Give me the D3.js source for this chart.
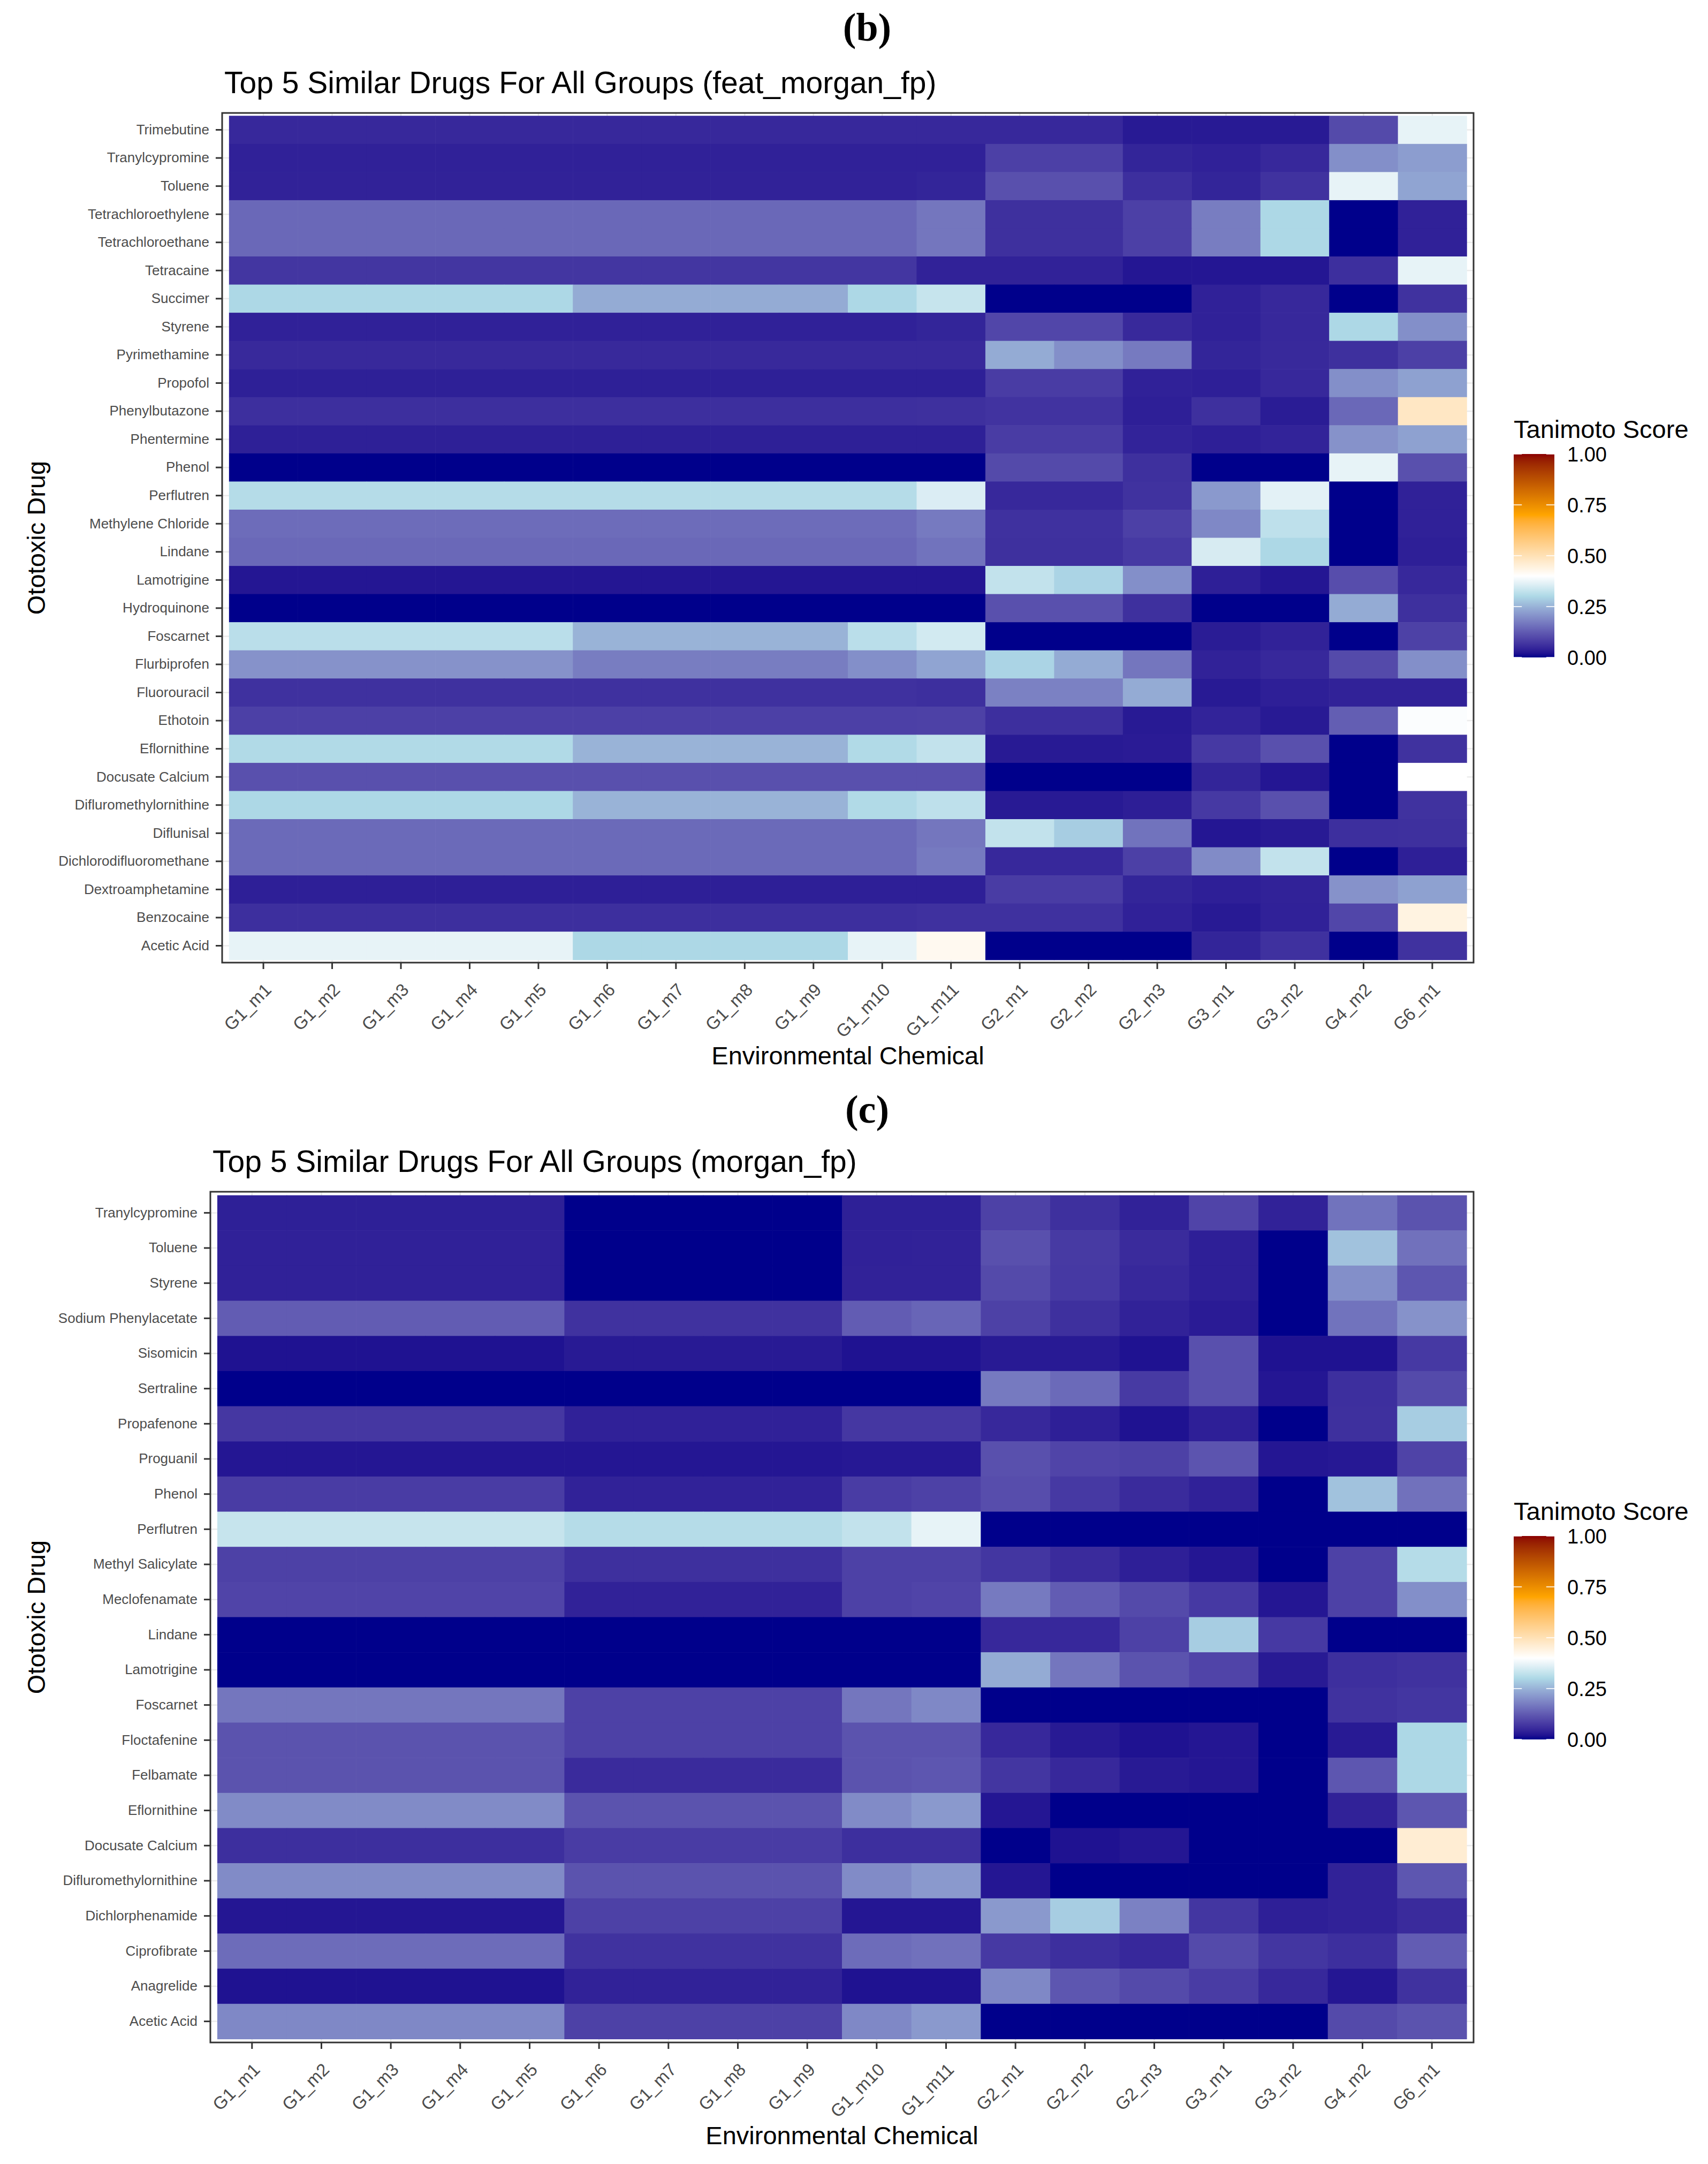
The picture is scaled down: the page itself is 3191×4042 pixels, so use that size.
<!DOCTYPE html>
<html>
<head>
<meta charset="utf-8">
<title>Top 5 Similar Drugs heatmaps</title>
<script src="https://cdn.jsdelivr.net/npm/d3@7"></script>
<style>
  * { margin: 0; padding: 0; }
  body { background: #fff; }
  text { font-family: "Liberation Sans", Arial, Helvetica, sans-serif; }
</style>
</head>
<body>
<div id="chart"></div>
<script>
// ---- data ----
var chemicals = ["G1_m1","G1_m2","G1_m3","G1_m4","G1_m5","G1_m6","G1_m7","G1_m8","G1_m9","G1_m10","G1_m11",
                 "G2_m1","G2_m2","G2_m3","G3_m1","G3_m2","G4_m2","G6_m1"];

// panel (b) feat_morgan_fp, rows listed top to bottom
var drugsB = ["Trimebutine","Tranylcypromine","Toluene","Tetrachloroethylene","Tetrachloroethane","Tetracaine",
  "Succimer","Styrene","Pyrimethamine","Propofol","Phenylbutazone","Phentermine","Phenol","Perflutren",
  "Methylene Chloride","Lindane","Lamotrigine","Hydroquinone","Foscarnet","Flurbiprofen","Fluorouracil",
  "Ethotoin","Eflornithine","Docusate Calcium","Difluromethylornithine","Diflunisal",
  "Dichlorodifluoromethane","Dextroamphetamine","Benzocaine","Acetic Acid"];

var scoresB = [
  [0.05,0.05,0.05,0.05,0.05,0.05,0.05,0.05,0.05,0.05,0.05, 0.05,0.05,0.03,0.03,0.03,0.10,0.37],
  [0.04,0.04,0.04,0.04,0.04,0.04,0.04,0.04,0.04,0.04,0.04, 0.085,0.085,0.045,0.04,0.05,0.20,0.22],
  [0.042,0.042,0.042,0.042,0.042,0.042,0.042,0.042,0.042,0.042,0.045, 0.11,0.11,0.06,0.045,0.065,0.37,0.23],
  [0.145,0.145,0.145,0.145,0.145,0.145,0.145,0.145,0.145,0.145,0.165, 0.062,0.062,0.085,0.175,0.30,0.0,0.04],
  [0.145,0.145,0.145,0.145,0.145,0.145,0.145,0.145,0.145,0.145,0.165, 0.062,0.062,0.085,0.175,0.30,0.0,0.04],
  [0.07,0.07,0.07,0.07,0.07,0.07,0.07,0.07,0.07,0.07,0.042, 0.042,0.042,0.025,0.025,0.025,0.06,0.37],
  [0.30,0.30,0.30,0.30,0.30,0.24,0.24,0.24,0.24,0.30,0.33, 0.0,0.0,0.0,0.04,0.05,0.0,0.065],
  [0.04,0.04,0.04,0.04,0.04,0.04,0.04,0.04,0.04,0.04,0.045, 0.095,0.095,0.052,0.04,0.05,0.30,0.20],
  [0.052,0.052,0.052,0.052,0.052,0.052,0.052,0.052,0.052,0.052,0.052, 0.24,0.20,0.17,0.045,0.052,0.062,0.085],
  [0.038,0.038,0.038,0.038,0.038,0.038,0.038,0.038,0.038,0.038,0.038, 0.08,0.08,0.04,0.037,0.05,0.20,0.225],
  [0.06,0.06,0.06,0.06,0.06,0.06,0.06,0.06,0.06,0.06,0.062, 0.066,0.066,0.037,0.062,0.033,0.145,0.48],
  [0.038,0.038,0.038,0.038,0.038,0.038,0.038,0.038,0.038,0.038,0.038, 0.08,0.08,0.043,0.037,0.043,0.205,0.225],
  [0.0,0.0,0.0,0.0,0.0,0.0,0.0,0.0,0.0,0.0,0.0, 0.10,0.10,0.062,0.0,0.0,0.37,0.11],
  [0.31,0.31,0.31,0.31,0.31,0.31,0.31,0.31,0.31,0.31,0.355, 0.05,0.05,0.065,0.215,0.365,0.0,0.04],
  [0.15,0.15,0.15,0.15,0.15,0.15,0.15,0.15,0.15,0.15,0.17, 0.063,0.063,0.085,0.19,0.32,0.0,0.04],
  [0.145,0.145,0.145,0.145,0.145,0.145,0.145,0.145,0.145,0.145,0.16, 0.062,0.062,0.075,0.35,0.30,0.0,0.037],
  [0.025,0.025,0.025,0.025,0.025,0.025,0.025,0.025,0.025,0.025,0.025, 0.325,0.295,0.20,0.037,0.025,0.105,0.05],
  [0.0,0.0,0.0,0.0,0.0,0.0,0.0,0.0,0.0,0.0,0.0, 0.11,0.11,0.062,0.0,0.0,0.24,0.062],
  [0.315,0.315,0.315,0.315,0.315,0.25,0.25,0.25,0.25,0.315,0.345, 0.0,0.0,0.0,0.033,0.042,0.0,0.087],
  [0.205,0.205,0.205,0.205,0.205,0.175,0.175,0.175,0.175,0.20,0.23, 0.295,0.24,0.165,0.042,0.05,0.10,0.20],
  [0.063,0.063,0.063,0.063,0.063,0.063,0.063,0.063,0.063,0.063,0.06, 0.18,0.18,0.24,0.03,0.037,0.042,0.042],
  [0.085,0.085,0.085,0.085,0.085,0.085,0.085,0.085,0.085,0.085,0.087, 0.06,0.06,0.03,0.043,0.03,0.13,0.395],
  [0.305,0.305,0.305,0.305,0.305,0.25,0.25,0.25,0.25,0.305,0.325, 0.03,0.03,0.032,0.075,0.11,0.0,0.065],
  [0.11,0.11,0.11,0.11,0.11,0.11,0.11,0.11,0.11,0.11,0.11, 0.0,0.0,0.0,0.045,0.025,0.0,0.40],
  [0.30,0.30,0.30,0.30,0.30,0.25,0.25,0.25,0.25,0.305,0.32, 0.03,0.03,0.036,0.075,0.11,0.0,0.065],
  [0.147,0.147,0.147,0.147,0.147,0.147,0.147,0.147,0.147,0.147,0.165, 0.325,0.285,0.16,0.025,0.03,0.06,0.062],
  [0.147,0.147,0.147,0.147,0.147,0.147,0.147,0.147,0.147,0.147,0.17, 0.05,0.05,0.085,0.195,0.325,0.0,0.037],
  [0.037,0.037,0.037,0.037,0.037,0.037,0.037,0.037,0.037,0.037,0.037, 0.08,0.08,0.045,0.037,0.042,0.205,0.225],
  [0.06,0.06,0.06,0.06,0.06,0.06,0.06,0.06,0.06,0.06,0.063, 0.063,0.063,0.04,0.03,0.04,0.095,0.44],
  [0.37,0.37,0.37,0.37,0.37,0.30,0.30,0.30,0.30,0.37,0.42, 0.0,0.0,0.0,0.045,0.063,0.0,0.065]
];

// panel (c) morgan_fp
var drugsC = ["Tranylcypromine","Toluene","Styrene","Sodium Phenylacetate","Sisomicin","Sertraline",
  "Propafenone","Proguanil","Phenol","Perflutren","Methyl Salicylate","Meclofenamate","Lindane",
  "Lamotrigine","Foscarnet","Floctafenine","Felbamate","Eflornithine","Docusate Calcium",
  "Difluromethylornithine","Dichlorphenamide","Ciprofibrate","Anagrelide","Acetic Acid"];

var scoresC = [
  [0.038,0.038,0.038,0.038,0.038,0.0,0.0,0.0,0.0,0.038,0.038, 0.087,0.062,0.042,0.092,0.042,0.16,0.113],
  [0.04,0.04,0.04,0.04,0.04,0.0,0.0,0.0,0.0,0.04,0.042, 0.11,0.077,0.055,0.037,0.0,0.27,0.158],
  [0.04,0.04,0.04,0.04,0.04,0.0,0.0,0.0,0.0,0.042,0.042, 0.10,0.075,0.05,0.037,0.0,0.20,0.118],
  [0.127,0.127,0.127,0.127,0.127,0.065,0.065,0.065,0.065,0.127,0.14, 0.087,0.062,0.042,0.032,0.0,0.16,0.205],
  [0.02,0.02,0.02,0.02,0.02,0.03,0.03,0.03,0.03,0.02,0.02, 0.03,0.03,0.02,0.11,0.02,0.02,0.075],
  [0.0,0.0,0.0,0.0,0.0,0.0,0.0,0.0,0.0,0.0,0.0, 0.17,0.147,0.077,0.11,0.025,0.06,0.10],
  [0.072,0.072,0.072,0.072,0.072,0.04,0.04,0.04,0.04,0.072,0.072, 0.05,0.037,0.02,0.037,0.0,0.062,0.285],
  [0.025,0.025,0.025,0.025,0.025,0.025,0.025,0.025,0.025,0.028,0.028, 0.11,0.092,0.087,0.115,0.025,0.028,0.09],
  [0.08,0.08,0.08,0.08,0.08,0.042,0.042,0.042,0.042,0.08,0.087, 0.105,0.075,0.055,0.04,0.0,0.27,0.158],
  [0.33,0.33,0.33,0.33,0.33,0.31,0.31,0.31,0.31,0.325,0.37, 0.0,0.0,0.0,0.0,0.0,0.0,0.0],
  [0.087,0.087,0.087,0.087,0.087,0.062,0.062,0.062,0.062,0.087,0.087, 0.07,0.055,0.037,0.025,0.0,0.087,0.31],
  [0.092,0.092,0.092,0.092,0.092,0.042,0.042,0.042,0.042,0.087,0.092, 0.17,0.127,0.10,0.075,0.025,0.087,0.20],
  [0.0,0.0,0.0,0.0,0.0,0.0,0.0,0.0,0.0,0.0,0.0, 0.05,0.05,0.087,0.285,0.075,0.0,0.0],
  [0.0,0.0,0.0,0.0,0.0,0.0,0.0,0.0,0.0,0.0,0.0, 0.24,0.165,0.113,0.092,0.03,0.06,0.065],
  [0.165,0.165,0.165,0.165,0.165,0.087,0.087,0.087,0.087,0.165,0.19, 0.0,0.0,0.0,0.0,0.0,0.065,0.07],
  [0.113,0.113,0.113,0.113,0.113,0.087,0.087,0.087,0.087,0.113,0.113, 0.05,0.03,0.02,0.025,0.0,0.03,0.30],
  [0.113,0.113,0.113,0.113,0.113,0.055,0.055,0.055,0.055,0.113,0.118, 0.07,0.05,0.03,0.025,0.0,0.118,0.30],
  [0.195,0.195,0.195,0.195,0.195,0.113,0.113,0.113,0.113,0.195,0.215, 0.025,0.0,0.0,0.0,0.0,0.042,0.118],
  [0.06,0.06,0.06,0.06,0.06,0.08,0.08,0.08,0.08,0.06,0.06, 0.0,0.02,0.025,0.0,0.0,0.0,0.46],
  [0.195,0.195,0.195,0.195,0.195,0.113,0.113,0.113,0.113,0.195,0.215, 0.025,0.0,0.0,0.0,0.0,0.042,0.118],
  [0.025,0.025,0.025,0.025,0.025,0.087,0.087,0.087,0.087,0.025,0.025, 0.215,0.285,0.18,0.07,0.037,0.042,0.055],
  [0.15,0.15,0.15,0.15,0.15,0.065,0.065,0.065,0.065,0.15,0.158, 0.075,0.06,0.05,0.10,0.07,0.06,0.127],
  [0.02,0.02,0.02,0.02,0.02,0.042,0.042,0.042,0.042,0.02,0.02, 0.19,0.118,0.10,0.08,0.05,0.025,0.065],
  [0.19,0.19,0.19,0.19,0.19,0.087,0.087,0.087,0.087,0.19,0.215, 0.0,0.0,0.0,0.0,0.0,0.10,0.113]
];

var legendTicks = [0, 0.25, 0.5, 0.75, 1];

// ---- drawing ----
var W = 3191, H = 4042;
var svg = d3.select("#chart").append("svg")
    .attr("width", W).attr("height", H)
    .attr("viewBox", "0 0 " + W + " " + H);
svg.append("rect").attr("width", W).attr("height", H).attr("fill", "#fff");

var color = d3.scaleLinear()
    .domain([0, 0.3, 0.4, 0.7, 1])
    .range(["darkblue", "lightblue", "white", "orange", "darkred"])
    .interpolate(d3.interpolateLab)
    .clamp(true);

var tickLen = 12;

function drawPanel(p) {
  var g = svg.append("g");

  // panel label like "(b)"
  g.append("text")
      .attr("x", 1620).attr("y", p.labelY)
      .attr("text-anchor", "middle")
      .style("font-family", "'Liberation Serif', 'DejaVu Serif', serif")
      .style("font-weight", "bold")
      .style("font-size", "74px")
      .text(p.label);

  g.append("text")
      .attr("x", p.left + 4).attr("y", p.top - 37)
      .style("font-size", "57px")
      .text(p.title);

  var x = d3.scaleBand().domain(chemicals).range([p.left, p.right]).paddingOuter(0.1).paddingInner(0);
  var y = d3.scaleBand().domain(p.drugs).range([p.top, p.bottom]).paddingOuter(0.1).paddingInner(0);

  // grid lines (only seen in the 0.1 margins)
  g.append("g").selectAll("line.gx").data(chemicals).enter().append("line")
      .attr("x1", function(d) { return x(d) + x.bandwidth() / 2; })
      .attr("x2", function(d) { return x(d) + x.bandwidth() / 2; })
      .attr("y1", p.top).attr("y2", p.bottom)
      .attr("stroke", "#ebebeb").attr("stroke-width", 2.5);
  g.append("g").selectAll("line.gy").data(p.drugs).enter().append("line")
      .attr("y1", function(d) { return y(d) + y.bandwidth() / 2; })
      .attr("y2", function(d) { return y(d) + y.bandwidth() / 2; })
      .attr("x1", p.left).attr("x2", p.right)
      .attr("stroke", "#ebebeb").attr("stroke-width", 2.5);

  var cells = [];
  p.drugs.forEach(function(drug, i) {
    chemicals.forEach(function(chem, j) {
      cells.push({ drug: drug, chem: chem, v: p.scores[i][j] });
    });
  });

  g.append("g").selectAll("rect").data(cells).enter().append("rect")
      .attr("x", function(d) { return x(d.chem); })
      .attr("y", function(d) { return y(d.drug); })
      .attr("width", x.bandwidth() + 0.6)
      .attr("height", y.bandwidth() + 0.6)
      .attr("fill", function(d) { return color(d.v); });

  // panel border
  g.append("rect")
      .attr("x", p.left).attr("y", p.top)
      .attr("width", p.right - p.left).attr("height", p.bottom - p.top)
      .attr("fill", "none").attr("stroke", "#333333").attr("stroke-width", 3);

  // y axis
  var yAxis = g.append("g")
      .attr("transform", "translate(" + p.left + ",0)")
      .call(d3.axisLeft(y).tickSize(tickLen).tickPadding(12));
  yAxis.select(".domain").remove();
  yAxis.selectAll("line").attr("stroke", "#333333").attr("stroke-width", 3);
  yAxis.selectAll("text")
      .attr("fill", "#4d4d4d")
      .style("font-family", "'Liberation Sans', Arial, sans-serif")
      .style("font-size", "26px");

  // x axis
  var xAxis = g.append("g")
      .attr("transform", "translate(0," + p.bottom + ")")
      .call(d3.axisBottom(x).tickSize(tickLen));
  xAxis.select(".domain").remove();
  xAxis.selectAll("line").attr("stroke", "#333333").attr("stroke-width", 3);
  xAxis.selectAll("text")
      .attr("fill", "#4d4d4d")
      .style("font-family", "'Liberation Sans', Arial, sans-serif")
      .style("font-size", "33px")
      .attr("text-anchor", "end")
      .attr("y", 0).attr("dy", "0.72em")
      .attr("transform", "translate(0,36) rotate(-45)");

  // axis titles
  g.append("text")
      .attr("x", (p.left + p.right) / 2).attr("y", p.bottom + 190)
      .attr("text-anchor", "middle")
      .style("font-size", "47px")
      .text("Environmental Chemical");
  g.append("text")
      .attr("transform", "translate(84," + ((p.top + p.bottom) / 2) + ") rotate(-90)")
      .attr("text-anchor", "middle")
      .style("font-size", "47px")
      .text("Ototoxic Drug");

  // legend
  var lg = g.append("g");
  var barX = 2828, barW = 76, barTop = p.legendTop, barH = 380;
  lg.append("text")
      .attr("x", barX).attr("y", barTop - 30)
      .style("font-size", "47px")
      .text("Tanimoto Score");
  var gradId = "grad_" + p.label.replace(/[()]/g, "");
  var grad = svg.append("defs").append("linearGradient")
      .attr("id", gradId).attr("x1", 0).attr("y1", 1).attr("x2", 0).attr("y2", 0);
  d3.range(0, 1.0001, 0.02).forEach(function(t) {
    grad.append("stop").attr("offset", t).attr("stop-color", color(t));
  });
  lg.append("rect")
      .attr("x", barX).attr("y", barTop)
      .attr("width", barW).attr("height", barH)
      .attr("fill", "url(#" + gradId + ")");
  var ls = d3.scaleLinear().domain([0, 1]).range([barTop + barH, barTop]);
  lg.selectAll("line.tl").data(legendTicks).enter().append("line")
      .attr("x1", barX).attr("x2", barX + barW * 0.2)
      .attr("y1", function(d) { return ls(d); }).attr("y2", function(d) { return ls(d); })
      .attr("stroke", "#ffffff").attr("stroke-width", 2).attr("opacity", 0.8);
  lg.selectAll("line.tr").data(legendTicks).enter().append("line")
      .attr("x1", barX + barW * 0.8).attr("x2", barX + barW)
      .attr("y1", function(d) { return ls(d); }).attr("y2", function(d) { return ls(d); })
      .attr("stroke", "#ffffff").attr("stroke-width", 2).attr("opacity", 0.8);
  lg.selectAll("text.lab").data(legendTicks).enter().append("text")
      .attr("x", barX + barW + 24)
      .attr("y", function(d) { return ls(d); })
      .attr("dy", "0.36em")
      .style("font-size", "38px")
      .attr("fill", "#000")
      .text(function(d) { return d3.format(".2f")(d); });
}

drawPanel({
  label: "(b)", labelY: 76,
  title: "Top 5 Similar Drugs For All Groups (feat_morgan_fp)",
  left: 415, right: 2753, top: 211, bottom: 1798,
  drugs: drugsB, scores: scoresB, legendTop: 848
});

drawPanel({
  label: "(c)", labelY: 2097,
  title: "Top 5 Similar Drugs For All Groups (morgan_fp)",
  left: 393, right: 2753, top: 2226, bottom: 3815,
  drugs: drugsC, scores: scoresC, legendTop: 2869
});
</script>
</body>
</html>
